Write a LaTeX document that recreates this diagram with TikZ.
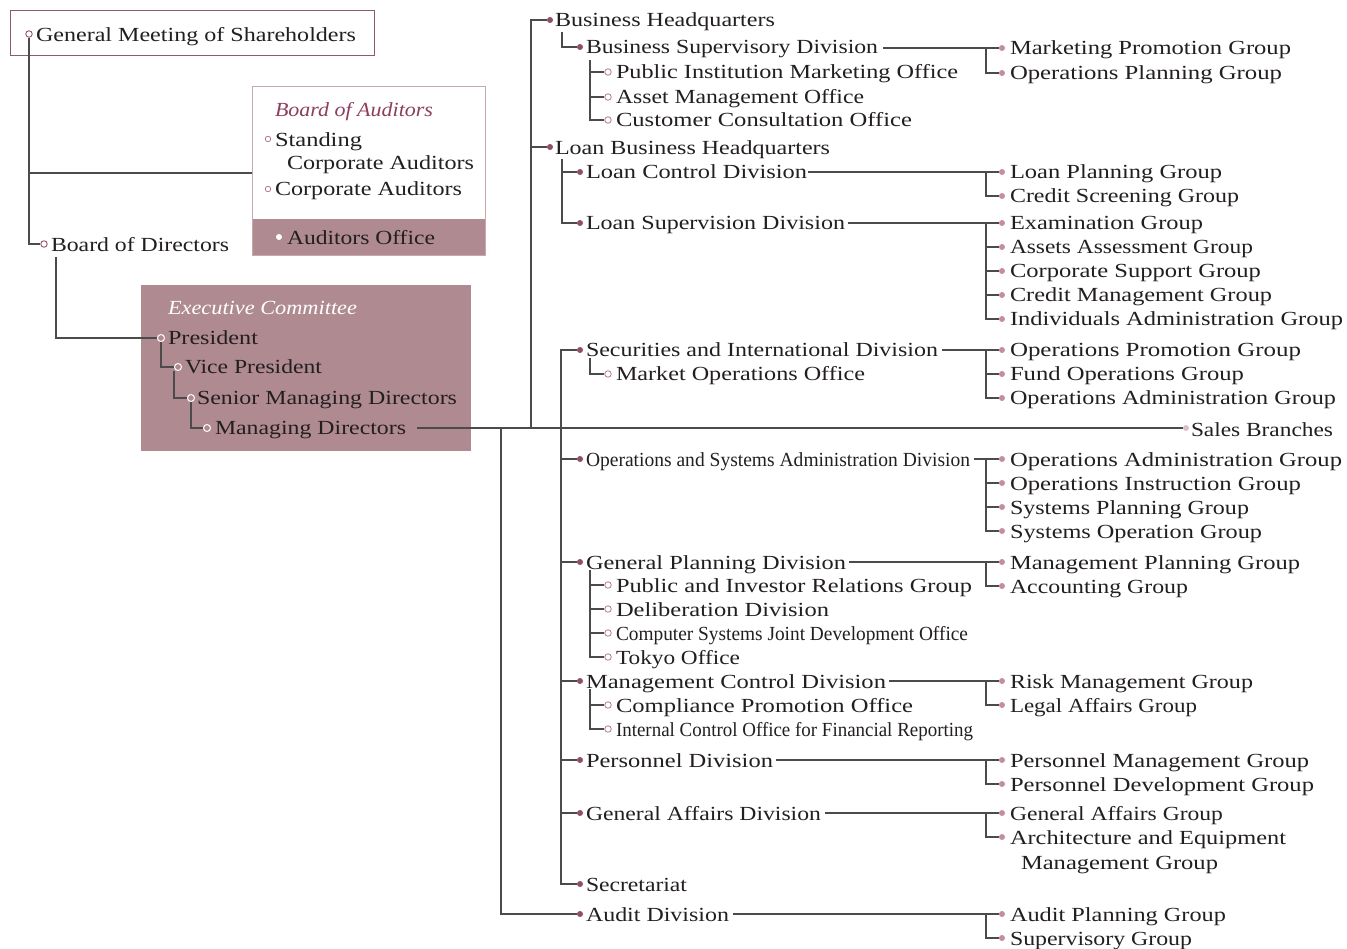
\documentclass[tikz,border=0pt]{standalone}
\usepackage{graphicx}
\usepackage{fontspec}
\setmainfont{Liberation Serif}
\definecolor{boxfill}{RGB}{176,138,145}
\definecolor{maroonc}{RGB}{140,62,94}
\definecolor{ddotc}{RGB}{142,80,102}
\definecolor{gdotc}{RGB}{196,143,157}
\definecolor{odotc}{RGB}{176,122,138}
\definecolor{sbdot}{RGB}{221,191,198}
\definecolor{linec}{RGB}{75,75,75}
\definecolor{txtc}{RGB}{35,31,32}
\definecolor{shbord}{RGB}{140,90,107}
\definecolor{audbord}{RGB}{200,167,174}
\newcommand\tw[2]{\resizebox{#1pt}{\height}{#2}}
\tikzset{
 txt/.style={anchor=base west, inner sep=0pt, outer sep=0pt, text=txtc, font=\fontsize{20}{24}\selectfont},
 itxt/.style={txt, font=\itshape\fontsize{20}{24}\selectfont},
 ddot/.style={circle, fill=ddotc, inner sep=0pt, minimum size=6pt},
 gdot/.style={circle, fill=gdotc, inner sep=0pt, minimum size=6pt},
 odot/.style={circle, draw=odotc, fill=white, line width=0.8pt, inner sep=0pt, minimum size=6.5pt},
 wdot/.style={circle, draw=white, fill=boxfill, line width=1pt, inner sep=0pt, minimum size=7pt},
 ln/.style={draw=linec, line width=1.1pt},
}
\newcommand\mkdiv[4]{\node[ddot] (#1d) at (580,#2) {}; \node[txt] (#1) at (586,#2+7) {\tw{#3}{#4}};}
\newcommand\mkoff[4]{\node[odot] (#1d) at (608,#2) {}; \node[txt] (#1) at (616,#2+7) {\tw{#3}{#4}};}
\newcommand\mkgrp[4]{\node[gdot] (#1d) at (1002,#2) {}; \node[txt] (#1) at (1010,#2+7) {\tw{#3}{#4}};}
\begin{document}
\begin{tikzpicture}[x=1pt,y=-1pt]
\fill[white] (0,0) rectangle (1347,949);
\useasboundingbox (0,0) rectangle (1347,949);
% ---------- Shareholders ----------
\node[draw=shbord, line width=1.3pt, minimum width=364pt, minimum height=45pt, inner sep=0pt, anchor=north west] (shbox) at (10,10) {};
\node[odot, draw=maroonc] (shd) at (29,34) {};
\node[txt] (sh) at (36,42) {\tw{320}{General Meeting of Shareholders}};
% ---------- Board of Directors ----------
\node[odot, draw=maroonc] (bodd) at (44,244) {};
\node[txt] (bod) at (51,252) {\tw{178}{Board of Directors}};
\draw[ln] (shd.south) |- (bodd.west);
% ---------- Board of Auditors ----------
\fill[boxfill] (252,219) rectangle (485,255);
\node[draw=audbord, line width=1.2pt, minimum width=233pt, minimum height=169pt, inner sep=0pt, anchor=north west] (audbox) at (252,86) {};
\coordinate (jaud) at (29,173);
\draw[ln] (jaud) -- (audbox.west |- jaud);
\node[itxt, text=maroonc] (boa) at (275,117) {\tw{158}{Board of Auditors}};
\node[odot, minimum size=5.5pt] (scad) at (268,139) {};
\node[txt] (sca1) at (275,147) {\tw{87}{Standing}};
\node[txt] (sca2) at (287,170) {\tw{187}{Corporate Auditors}};
\node[odot, minimum size=5.5pt] (cad) at (268,189) {};
\node[txt] (ca) at (275,196) {\tw{187}{Corporate Auditors}};
\node[circle, fill=white, inner sep=0pt, minimum size=6pt] (aod) at (279,237) {};
\node[txt] (ao) at (287,245) {\tw{148}{Auditors Office}};
% ---------- Executive Committee ----------
\node[fill=boxfill, minimum width=330pt, minimum height=166pt, inner sep=0pt, anchor=north west] (ecbox) at (141,285) {};
\node[itxt, text=white] (ec) at (168,315) {\tw{189}{Executive Committee}};
\node[wdot] (prd) at (161,338) {};
\node[txt] (pr) at (168,345) {\tw{90}{President}};
\node[wdot] (vpd) at (178,367) {};
\node[txt] (vp) at (185,374) {\tw{137}{Vice President}};
\node[wdot] (smdd) at (191,398) {};
\node[txt] (smd) at (197,405) {\tw{260}{Senior Managing Directors}};
\node[wdot] (mdd) at (207,428) {};
\node[txt] (md) at (215,435) {\tw{191}{Managing Directors}};
\coordinate (bodb) at (56,257);
\draw[ln] (bodb) |- (prd.west);
\draw[ln] (prd.south) |- (vpd.west);
\draw[ln] ([xshift=-4pt]vpd.south) |- (smdd.west);
\draw[ln] (smdd.south) |- (mdd.west);
% ---------- Sales Branches ----------
\coordinate (mdE) at (417,428);
\node[circle, fill=sbdot, inner sep=0pt, minimum size=6pt] (sbd) at (1186,428) {};
\node[txt] (sb) at (1191,436) {\tw{142}{Sales Branches}};
\draw[ln] (mdE) -- (sbd.west);
% ---------- trunks ----------
\coordinate (t1) at (531,428);
\coordinate (t2) at (561,428);
\coordinate (t3) at (501,428);
% ---------- Business Headquarters ----------
\node[ddot] (bhd) at (550,20) {};
\node[txt] (bh) at (555,27) {\tw{220}{Business Headquarters}};
\draw[ln] (t1) |- (bhd.west);
\node[ddot] (lbhd) at (550,147) {};
\node[txt] (lbh) at (555,155) {\tw{275}{Loan Business Headquarters}};
\draw[ln] (t1) |- (lbhd.west);
% Business Supervisory Division
\mkdiv{bsd}{47}{292}{Business Supervisory Division}
\coordinate (bhb) at (562,32);
\draw[ln] (bhb) |- (bsdd.west);
\mkoff{pim}{72}{342}{Public Institution Marketing Office}
\mkoff{amo}{97}{248}{Asset Management Office}
\mkoff{cco}{120}{296}{Customer Consultation Office}
\coordinate (bsdb) at (590,60);
\draw[ln] (bsdb) |- (pimd.west);
\draw[ln] (bsdb) |- (amod.west);
\draw[ln] (bsdb) |- (ccod.west);
\mkgrp{mpg}{48}{281}{Marketing Promotion Group}
\mkgrp{opg}{73}{272}{Operations Planning Group}
\coordinate (bsdE) at (883,48); \coordinate (bk1) at (986,48);
\draw[ln] (bsdE) -- (bk1) -- (mpgd.west);
\draw[ln] (bk1) |- (opgd.west);
% Loan divisions
\mkdiv{lcd}{172}{221}{Loan Control Division}
\mkdiv{lsd}{223}{259}{Loan Supervision Division}
\coordinate (lbhb) at (562,159);
\draw[ln] (lbhb) |- (lcdd.west);
\draw[ln] (lbhb) |- (lsdd.west);
\mkgrp{lpg}{172}{212}{Loan Planning Group}
\mkgrp{csg}{196}{229}{Credit Screening Group}
\coordinate (lcdE) at (808,172); \coordinate (bk2) at (986,172);
\draw[ln] (lcdE) -- (bk2) -- (lpgd.west);
\draw[ln] (bk2) |- (csgd.west);
\mkgrp{exg}{223}{193}{Examination Group}
\mkgrp{aag}{247}{243}{Assets Assessment Group}
\mkgrp{cspg}{271}{251}{Corporate Support Group}
\mkgrp{cmg}{295}{262}{Credit Management Group}
\mkgrp{iag}{319}{333}{Individuals Administration Group}
\coordinate (lsdE) at (848,223); \coordinate (bk3) at (986,223);
\draw[ln] (lsdE) -- (bk3) -- (exgd.west);
\draw[ln] (bk3) |- (aagd.west);
\draw[ln] (bk3) |- (cspgd.west);
\draw[ln] (bk3) |- (cmgd.west);
\draw[ln] (bk3) |- (iagd.west);
% Securities and International Division
\mkdiv{sid}{350}{352}{Securities and International Division}
\draw[ln] (t2) |- (sidd.west);
\mkoff{moo}{374}{249}{Market Operations Office}
\coordinate (sidb) at (590,358);
\draw[ln] (sidb) |- (mood.west);
\mkgrp{oprg}{350}{291}{Operations Promotion Group}
\mkgrp{fog}{374}{234}{Fund Operations Group}
\mkgrp{oaga}{398}{326}{Operations Administration Group}
\coordinate (sidE) at (942,350); \coordinate (bk4) at (986,350);
\draw[ln] (sidE) -- (bk4) -- (oprgd.west);
\draw[ln] (bk4) |- (fogd.west);
\draw[ln] (bk4) |- (oagad.west);
% Operations and Systems Administration Division
\mkdiv{osd}{459}{384}{Operations and Systems Administration Division}
\draw[ln] (t2) |- (osdd.west);
\mkgrp{oagb}{459}{332}{Operations Administration Group}
\mkgrp{oig}{483}{291}{Operations Instruction Group}
\mkgrp{spg}{507}{239}{Systems Planning Group}
\mkgrp{sog}{531}{252}{Systems Operation Group}
\coordinate (osdE) at (974,459); \coordinate (bk5) at (986,459);
\draw[ln] (osdE) -- (bk5) -- (oagbd.west);
\draw[ln] (bk5) |- (oigd.west);
\draw[ln] (bk5) |- (spgd.west);
\draw[ln] (bk5) |- (sogd.west);
% General Planning Division
\mkdiv{gpd}{562}{260}{General Planning Division}
\draw[ln] (t2) |- (gpdd.west);
\mkoff{pir}{585}{356}{Public and Investor Relations Group}
\mkoff{dld}{609}{213}{Deliberation Division}
\mkoff{csj}{633}{352}{Computer Systems Joint Development Office}
\mkoff{tko}{657}{124}{Tokyo Office}
\coordinate (gpdb) at (590,570);
\draw[ln] (gpdb) |- (pird.west);
\draw[ln] (gpdb) |- (dldd.west);
\draw[ln] (gpdb) |- (csjd.west);
\draw[ln] (gpdb) |- (tkod.west);
\mkgrp{mplg}{562}{290}{Management Planning Group}
\mkgrp{accg}{586}{178}{Accounting Group}
\coordinate (gpdE) at (849,562); \coordinate (bk6) at (986,562);
\draw[ln] (gpdE) -- (bk6) -- (mplgd.west);
\draw[ln] (bk6) |- (accgd.west);
% Management Control Division
\mkdiv{mcd}{681}{300}{Management Control Division}
\draw[ln] (t2) |- (mcdd.west);
\mkoff{cpo}{705}{297}{Compliance Promotion Office}
\mkoff{ico}{729}{357}{Internal Control Office for Financial Reporting}
\coordinate (mcdb) at (590,689);
\draw[ln] (mcdb) |- (cpod.west);
\draw[ln] (mcdb) |- (icod.west);
\mkgrp{rmg}{681}{243}{Risk Management Group}
\mkgrp{lag}{705}{187}{Legal Affairs Group}
\coordinate (mcdE) at (889,681); \coordinate (bk7) at (986,681);
\draw[ln] (mcdE) -- (bk7) -- (rmgd.west);
\draw[ln] (bk7) |- (lagd.west);
% Personnel Division
\mkdiv{pd}{760}{187}{Personnel Division}
\draw[ln] (t2) |- (pdd.west);
\mkgrp{pmg}{760}{299}{Personnel Management Group}
\mkgrp{pdg}{784}{304}{Personnel Development Group}
\coordinate (pdE) at (776,760); \coordinate (bk8) at (986,760);
\draw[ln] (pdE) -- (bk8) -- (pmgd.west);
\draw[ln] (bk8) |- (pdgd.west);
% General Affairs Division
\mkdiv{gad}{813}{235}{General Affairs Division}
\draw[ln] (t2) |- (gadd.west);
\mkgrp{gag}{813}{213}{General Affairs Group}
\mkgrp{aeg}{837}{276}{Architecture and Equipment}
\node[txt] (aeg2) at (1021,869) {\tw{197}{Management Group}};
\coordinate (gadE) at (825,813); \coordinate (bk9) at (986,813);
\draw[ln] (gadE) -- (bk9) -- (gagd.west);
\draw[ln] (bk9) |- (aegd.west);
% Secretariat
\mkdiv{sec}{884}{101}{Secretariat}
\draw[ln] (t2) |- (secd.west);
% Audit Division
\mkdiv{aud}{914}{143}{Audit Division}
\draw[ln] (t3) |- (audd.west);
\mkgrp{apg}{914}{216}{Audit Planning Group}
\mkgrp{svg}{938}{182}{Supervisory Group}
\coordinate (audE) at (733,914); \coordinate (bk10) at (986,914);
\draw[ln] (audE) -- (bk10) -- (apgd.west);
\draw[ln] (bk10) |- (svgd.west);
\end{tikzpicture}
\end{document}
